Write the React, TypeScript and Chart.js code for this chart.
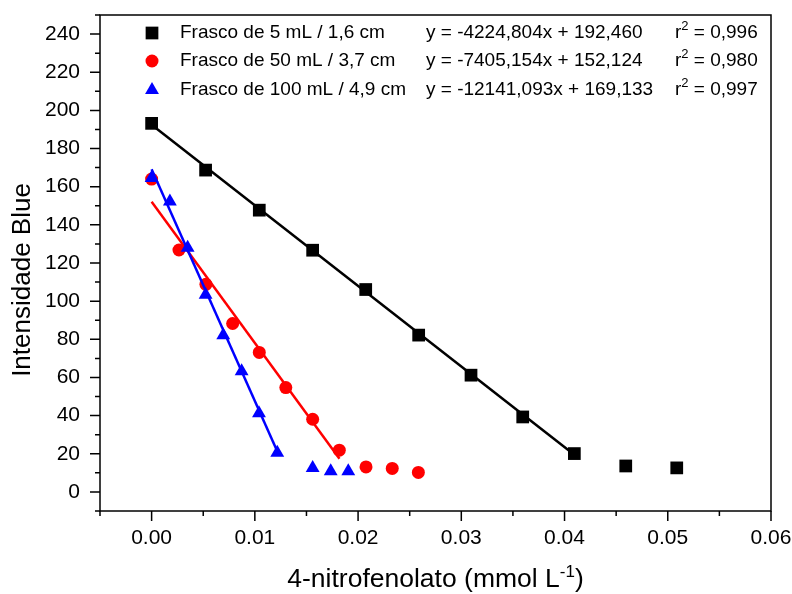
import React, { useEffect, useRef } from "react";
import { Chart, registerables } from "chart.js";
Chart.register(...registerables);

// ---- data ----
const blackLabel = "Frasco de 5 mL / 1,6 cm";
const redLabel = "Frasco de 50 mL / 3,7 cm";
const blueLabel = "Frasco de 100 mL / 4,9 cm";

const blackEq = "y = -4224,804x + 192,460";
const redEq = "y = -7405,154x + 152,124";
const blueEq = "y = -12141,093x + 169,133";

const blackR2 = " = 0,996";
const redR2 = " = 0,980";
const blueR2 = " = 0,997";

const blackX = [0, 0.00523, 0.01043, 0.0156, 0.02074, 0.02587, 0.03094, 0.03595, 0.04095, 0.04593, 0.05087];
const blackY = [193.2, 168.7, 147.7, 126.7, 106.1, 82.2, 61.2, 39.3, 20.1, 13.6, 12.6];

const redX = [0, 0.00265, 0.00526, 0.00785, 0.01043, 0.013, 0.0156, 0.01818, 0.02077, 0.02331, 0.02584];
const redY = [164.0, 126.8, 108.8, 88.3, 73.1, 54.7, 38.1, 21.9, 13.1, 12.3, 10.2];

const blueX = [0, 0.00177, 0.00349, 0.00523, 0.00694, 0.00872, 0.0104, 0.01217, 0.0156, 0.01735, 0.01905];
const blueY = [164.5, 152.3, 128.0, 103.4, 82.1, 63.2, 41.3, 20.5, 12.6, 10.9, 10.9];

const blackFitX = [0, 0.04095];
const blackFitY = [192.46, 19.46];
const redFitX = [0, 0.0182];
const redFitY = [152.12, 17.35];
const blueFitX = [0, 0.01217];
const blueFitY = [169.13, 21.37];

const xMajorTicks = [0, 0.01, 0.02, 0.03, 0.04, 0.05, 0.06];
const xMinorTicks = [-0.005, 0.005, 0.015, 0.025, 0.035, 0.045, 0.055];
const yMajorTicks = [0, 20, 40, 60, 80, 100, 120, 140, 160, 180, 200, 220, 240];
const yMinorTicks = [-10, 10, 30, 50, 70, 90, 110, 130, 150, 170, 190, 210, 230, 250];

const xTitleMain = "4-nitrofenolato (mmol L";
const xTitleSup = "-1";
const xTitleEnd = ")";
const yTitle = "Intensidade Blue";

const FONT = "'Liberation Sans', Arial, sans-serif";
const BLACK = "#000000";
const RED = "#ff0000";
const BLUE = "#0000ff";

const pts = (xs: number[], ys: number[]) => xs.map((x, i) => ({ x, y: ys[i] }));

function drawMarker(ctx: CanvasRenderingContext2D, kind: string, x: number, y: number, color: string) {
  ctx.fillStyle = color;
  ctx.beginPath();
  if (kind === "rect") {
    const s = 9 * Math.SQRT1_2;
    ctx.rect(x - s, y - s, 2 * s, 2 * s);
  } else if (kind === "circle") {
    ctx.arc(x, y, 6.5, 0, Math.PI * 2);
  } else {
    const r = 8;
    ctx.moveTo(x, y - r);
    ctx.lineTo(x + 0.866 * r, y + 0.5 * r);
    ctx.lineTo(x - 0.866 * r, y + 0.5 * r);
    ctx.closePath();
  }
  ctx.fill();
}

const framePlugin = {
  id: "frameAndLegend",
  afterDraw(chart: any) {
    const { ctx, chartArea: ca, scales } = chart;
    const xs = scales.x;
    const ys = scales.y;
    ctx.save();
    ctx.strokeStyle = BLACK;
    ctx.lineWidth = 1.5;
    ctx.strokeRect(ca.left, ca.top, ca.right - ca.left, ca.bottom - ca.top);
    ctx.beginPath();
    for (const v of yMajorTicks) {
      const p = ys.getPixelForValue(v);
      ctx.moveTo(ca.left - 10, p);
      ctx.lineTo(ca.left, p);
    }
    for (const v of yMinorTicks) {
      const p = ys.getPixelForValue(v);
      ctx.moveTo(ca.left - 5, p);
      ctx.lineTo(ca.left, p);
    }
    for (const v of xMajorTicks) {
      const p = xs.getPixelForValue(v);
      ctx.moveTo(p, ca.bottom + 10);
      ctx.lineTo(p, ca.bottom);
    }
    for (const v of xMinorTicks) {
      const p = xs.getPixelForValue(v);
      ctx.moveTo(p, ca.bottom + 5);
      ctx.lineTo(p, ca.bottom);
    }
    ctx.stroke();

    // axis titles
    ctx.fillStyle = BLACK;
    ctx.font = `26.5px ${FONT}`;
    ctx.textBaseline = "alphabetic";
    const mainW = ctx.measureText(xTitleMain).width;
    ctx.font = `17px ${FONT}`;
    const supW = ctx.measureText(xTitleSup).width;
    ctx.font = `26.5px ${FONT}`;
    const endW = ctx.measureText(xTitleEnd).width;
    const total = mainW + supW + endW;
    const cx = (ca.left + ca.right) / 2;
    let tx = cx - total / 2;
    const by = 587;
    ctx.textAlign = "left";
    ctx.fillText(xTitleMain, tx, by);
    tx += mainW;
    ctx.font = `17px ${FONT}`;
    ctx.fillText(xTitleSup, tx, by - 10);
    tx += supW;
    ctx.font = `26.5px ${FONT}`;
    ctx.fillText(xTitleEnd, tx, by);

    ctx.save();
    ctx.translate(30, 280);
    ctx.rotate(-Math.PI / 2);
    ctx.textAlign = "center";
    ctx.font = `26px ${FONT}`;
    ctx.fillText(yTitle, 0, 0);
    ctx.restore();

    // legend
    const rows = [
      { kind: "rect", color: BLACK, label: blackLabel, eq: blackEq, r2: blackR2, y: 33 },
      { kind: "circle", color: RED, label: redLabel, eq: redEq, r2: redR2, y: 61 },
      { kind: "triangle", color: BLUE, label: blueLabel, eq: blueEq, r2: blueR2, y: 90 },
    ];
    for (const r of rows) {
      drawMarker(ctx, r.kind, 152, r.y, r.color);
      ctx.fillStyle = BLACK;
      ctx.font = `19px ${FONT}`;
      ctx.textAlign = "left";
      ctx.textBaseline = "middle";
      ctx.fillText(r.label, 180, r.y);
      ctx.fillText(r.eq, 426, r.y);
      ctx.fillText("r", 675, r.y);
      const rw = ctx.measureText("r").width;
      ctx.font = `13px ${FONT}`;
      ctx.fillText("2", 675 + rw, r.y - 7);
      const sw = ctx.measureText("2").width;
      ctx.font = `19px ${FONT}`;
      ctx.fillText(r.r2, 675 + rw + sw, r.y);
    }
    ctx.restore();
  },
};

const zeroPadding = (axis: any) => {
  axis.paddingTop = 0;
  axis.paddingBottom = 0;
  axis.paddingLeft = 0;
  axis.paddingRight = 0;
};

export default function App() {
  const ref = useRef<HTMLCanvasElement | null>(null);
  useEffect(() => {
    if (!ref.current) return;
    const chart = new Chart(ref.current, {
      type: "scatter",
      data: {
        datasets: [
          { label: "blueFit", data: pts(blueFitX, blueFitY), showLine: true, borderColor: BLUE, borderWidth: 2.5, pointRadius: 0, order: 0 },
          { label: blueLabel, data: pts(blueX, blueY), showLine: false, pointStyle: "triangle", pointRadius: 8, backgroundColor: BLUE, borderColor: BLUE, borderWidth: 0, order: 1 },
          { label: "redFit", data: pts(redFitX, redFitY), showLine: true, borderColor: RED, borderWidth: 2.5, pointRadius: 0, order: 2 },
          { label: redLabel, data: pts(redX, redY), showLine: false, pointStyle: "circle", pointRadius: 6.5, backgroundColor: RED, borderColor: RED, borderWidth: 0, order: 3 },
          { label: "blackFit", data: pts(blackFitX, blackFitY), showLine: true, borderColor: BLACK, borderWidth: 2.5, pointRadius: 0, order: 4 },
          { label: blackLabel, data: pts(blackX, blackY), showLine: false, pointStyle: "rect", pointRadius: 9, backgroundColor: BLACK, borderColor: BLACK, borderWidth: 0, order: 5 },
        ],
      },
      options: {
        animation: false,
        responsive: false,
        layout: { padding: { left: 0, top: 15, right: 21, bottom: 0 } },
        plugins: { legend: { display: false }, tooltip: { enabled: false } },
        scales: {
          x: {
            type: "linear",
            min: -0.005,
            max: 0.06,
            grid: { display: false, drawTicks: false },
            border: { display: false },
            afterBuildTicks: (axis: any) => {
              axis.ticks = xMajorTicks.map((v) => ({ value: v }));
            },
            afterFit: (axis: any) => {
              axis.height = 83;
              zeroPadding(axis);
            },
            ticks: {
              color: BLACK,
              font: { family: FONT, size: 21 },
              padding: 15,
              maxRotation: 0,
              autoSkip: false,
              callback: (v: any) => Number(v).toFixed(2),
            },
          },
          y: {
            type: "linear",
            min: -10,
            max: 250,
            grid: { display: false, drawTicks: false },
            border: { display: false },
            afterBuildTicks: (axis: any) => {
              axis.ticks = yMajorTicks.map((v) => ({ value: v }));
            },
            afterFit: (axis: any) => {
              axis.width = 100;
              zeroPadding(axis);
            },
            ticks: {
              color: BLACK,
              font: { family: FONT, size: 21 },
              padding: 20,
              autoSkip: false,
              callback: (v: any) => String(v),
            },
          },
        },
      },
      plugins: [framePlugin],
    });
    return () => chart.destroy();
  }, []);
  return (
    <div style={{ position: "absolute", left: 0, top: 0, width: 792, height: 594, background: "#fff" }}>
      <canvas ref={ref} width={792} height={594} style={{ display: "block" }} />
    </div>
  );
}
